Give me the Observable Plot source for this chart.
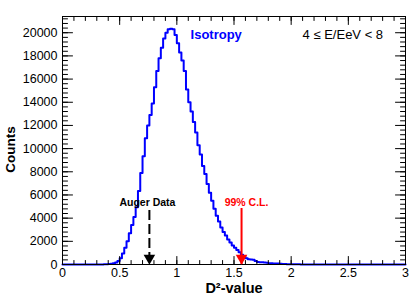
<!DOCTYPE html>
<html><head><meta charset="utf-8">
<script src="https://cdn.jsdelivr.net/npm/d3@7"></script>
<script src="https://cdn.jsdelivr.net/npm/@observablehq/plot@0.6"></script>
<style>body{margin:0;background:#fff}</style>
</head><body><div id="chart"></div>
<script>
// Histogram: bins of width 0.02 starting at histStart
const histStart = 0.30;
const binWidth = 0.02;
const counts = [
  2, 5, 8, 12, 20, 35, 60, 100, 170, 300,
  550, 950, 1450, 2000, 2700, 3400, 4100, 4950, 6350, 7900,
  9350, 10900, 12000, 12900, 13900, 15300, 16700, 17800, 18700, 19500,
  20000, 20300, 20350, 20300, 19800,
  19100, 18300, 17600, 16700, 15100, 14000, 13200, 12300, 11400, 10300,
  9500, 8500, 7800, 6950, 6200, 5500, 4800, 4200, 3700, 3200,
  2800, 2500, 2150, 1900, 1650, 1450, 1250, 1050, 850, 720,
  550, 450, 430, 400, 300, 220, 200, 190, 170, 150,
  110, 100, 90, 90, 80, 60, 40, 40, 30, 25,
  20, 18, 15, 12, 10, 10, 8, 6, 5, 5, 4, 3, 3, 2, 2, 2
];
const xDomain = [0, 3];
const yDomain = [0, 21400];
const xMajorTicks = [0, 0.5, 1, 1.5, 2, 2.5, 3];
const xMinorTicks = d3.range(0, 3.0001, 0.1);
const yMajorTicks = [0, 2000, 4000, 6000, 8000, 10000, 12000, 14000, 16000, 18000, 20000];
const yMinorTicks = d3.range(0, 21400, 400);
const augerValue = 0.76;
const augerArrowTop = 4660;
const clValue = 1.566;
const clArrowTop = 4830;

const hist = [{x: 0, y: 0}];
counts.forEach((c, i) => hist.push({x: histStart + i * binWidth, y: c}));
hist.push({x: histStart + counts.length * binWidth, y: 0});
hist.push({x: 3, y: 0});

const sBottom = {draw(c, l) { c.moveTo(0, 0); c.lineTo(0, -l); }};
const sTop = {draw(c, l) { c.moveTo(0, 0); c.lineTo(0, l); }};
const sLeft = {draw(c, l) { c.moveTo(0, 0); c.lineTo(l, 0); }};
const sRight = {draw(c, l) { c.moveTo(0, 0); c.lineTo(-l, 0); }};
const tk = (data, anchor, len, shape) => Plot.vector(data, {
  ...(anchor === "bottom" || anchor === "top" ? {x: d => d} : {y: d => d}),
  frameAnchor: anchor, length: len, rotate: 0, anchor: "start", shape,
  stroke: "black", strokeWidth: 1
});

const fmt = d => String(d);
const chart = Plot.plot({
  width: 420, height: 300,
  marginLeft: 62, marginRight: 15, marginTop: 16, marginBottom: 36,
  style: {fontFamily: "'Liberation Sans', Arial, sans-serif", background: "white", color: "black"},
  x: {domain: xDomain},
  y: {domain: yDomain},
  marks: [
    Plot.line(hist, {x: "x", y: "y", curve: "step-after", stroke: "#0000ff", strokeWidth: 2}),
    Plot.frame({stroke: "black", strokeWidth: 1}),
    tk(xMinorTicks, "bottom", 4, sBottom),
    tk(xMajorTicks, "bottom", 8, sBottom),
    tk(xMinorTicks, "top", 4, sTop),
    tk(xMajorTicks, "top", 8, sTop),
    tk(yMinorTicks, "left", 5, sLeft),
    tk(yMajorTicks, "left", 10, sLeft),
    tk(yMinorTicks, "right", 5, sRight),
    tk(yMajorTicks, "right", 10, sRight),
    Plot.axisX(xMajorTicks, {tickSize: 0, tickPadding: 4, fontSize: 12.5, tickFormat: fmt, label: null}),
    Plot.axisY(yMajorTicks, {tickSize: 0, tickPadding: 5, fontSize: 12.5, tickFormat: fmt, label: null}),
    Plot.text(["D²-value"], {frameAnchor: "bottom", dy: 28, fontSize: 14.5, fontWeight: "bold"}),
    Plot.text(["Counts"], {y: 9920, frameAnchor: "left", textAnchor: "middle", rotate: -90, dx: -52, fontSize: 13.5, fontWeight: "bold"}),
    Plot.text(["Isotropy"], {x: 1.12, y: 19850, textAnchor: "start", fontSize: 13, fontWeight: "bold", fill: "#0000ff"}),
    Plot.text(["4 ≤ E/EeV < 8"], {x: 2.10, y: 19850, textAnchor: "start", fontSize: 13, fill: "black"}),
    Plot.ruleX([augerValue], {x: d => d, y1: augerArrowTop, y2: 0, stroke: "black", strokeWidth: 2, strokeDasharray: "10,4"}),
    Plot.dot([augerValue], {x: d => d, y: 0, symbol: "triangle", r: 4.3, rotate: 180, dy: -6.5, fill: "black", stroke: "none"}),
    Plot.text(["Auger Data"], {x: augerValue, y: 5350, dx: -2, fontSize: 10.5, fontWeight: "bold", fill: "black"}),
    Plot.ruleX([clValue], {x: d => d, y1: clArrowTop, y2: 0, stroke: "#ff0000", strokeWidth: 2}),
    Plot.dot([clValue], {x: d => d, y: 0, symbol: "triangle", r: 4.3, rotate: 180, dy: -6.5, fill: "#ff0000", stroke: "none"}),
    Plot.text(["99% C.L."], {x: clValue, y: 5350, dx: 5, fontSize: 10.5, fontWeight: "bold", fill: "#ff0000"})
  ]
});
document.getElementById("chart").appendChild(chart);
</script>
</body></html>
